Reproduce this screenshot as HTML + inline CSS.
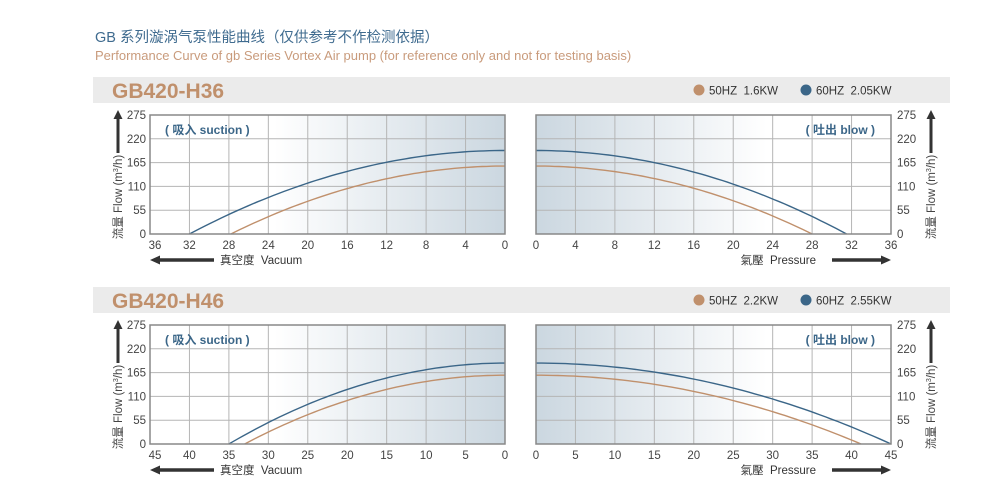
<!DOCTYPE html>
<html><head><meta charset="utf-8"><style>
html,body{margin:0;padding:0;background:#fff;}
svg{display:block;font-family:"Liberation Sans","Noto Sans CJK SC",sans-serif;}
text{white-space:pre;}
</style></head><body>
<svg id="s" width="1000" height="504" viewBox="0 0 1000 504" xmlns="http://www.w3.org/2000/svg" xml:space="preserve">
<defs>
<linearGradient id="gl" x1="0" x2="1" y1="0" y2="0"><stop offset="0" stop-color="#fff"/><stop offset="0.35" stop-color="#fff"/><stop offset="1" stop-color="#cbd7e0"/></linearGradient>
<linearGradient id="gr" x1="1" x2="0" y1="0" y2="0"><stop offset="0" stop-color="#fff"/><stop offset="0.35" stop-color="#fff"/><stop offset="1" stop-color="#cbd7e0"/></linearGradient>
</defs>
<text x="95" y="42" font-size="14.5" fill="#3f6b8f">GB 系列漩涡气泵性能曲线（仅供参考不作检测依据）</text>
<text x="95" y="60" font-size="13" fill="#c99b7c">Performance Curve of gb Series Vortex Air pump (for reference only and not for testing basis)</text>
<g id="g"></g>
</svg>
<script>
var g=document.getElementById('g'),h='';
function sec(top,title,leg1,leg2,pm,bl,bp,ol,op,Qb,Qo){
  h+='<rect x="93" y="'+(top)+'" width="857" height="26" fill="#ebebeb"/>';
  h+='<text x="112" y="'+(top+21)+'" font-size="21" font-weight="bold" fill="#c0906c">'+title+'</text>';
  h+='<circle cx="699" cy="'+(top+13)+'" r="5.5" fill="#c0906c"/><text x="709" y="'+(top+17.5)+'" font-size="11.5" fill="#333">'+leg1+'</text>';
  h+='<circle cx="806" cy="'+(top+13)+'" r="5.5" fill="#3b6688"/><text x="816" y="'+(top+17.5)+'" font-size="11.5" fill="#333">'+leg2+'</text>';
  var y0=top+38,y1=top+157,hh=y1-y0;
  [[150,'gl',0],[536,'gr',1]].forEach(function(P){
    var x0=P[0],w=355,right=P[2];
    h+='<rect x="'+x0+'" y="'+y0+'" width="'+w+'" height="'+hh+'" fill="url(#'+P[1]+')"/>';
    for(var i=1;i<9;i++){var x=x0+w*i/9;h+='<line x1="'+x+'" y1="'+y0+'" x2="'+x+'" y2="'+y1+'" stroke="#b5b5b5" stroke-width="1"/>';}
    for(var j=1;j<5;j++){var y=y0+hh*j/5;h+='<line x1="'+x0+'" y1="'+y+'" x2="'+(x0+w)+'" y2="'+y+'" stroke="#b5b5b5" stroke-width="1"/>';}
    for(var i=0;i<=9;i++){var v=pm*i/9,x=right?x0+w*i/9:x0+w-w*i/9;
      if(!right&&i==9)x+=5;
      h+='<text x="'+x+'" y="'+(y1+15)+'" font-size="11.5" fill="#444" text-anchor="middle">'+v+'</text>';}
    function curve(pmax,Q0,col){
      var d='';for(var k=0;k<=60;k++){var t=k/60,p=pmax*t,Q=Q0*(1-t*t);
        var x=right?x0+w*p/pm:x0+w-w*p/pm,y=y1-hh*Q/275;d+=(k?'L':'M')+x.toFixed(1)+' '+y.toFixed(1);}
      h+='<path d="'+d+'" fill="none" stroke="'+col+'" stroke-width="1.4"/>';}
    if(right){curve(bp,Qb,'#3b6688');curve(op,Qo,'#c0906c');}
    else{curve(bl,Qb,'#3b6688');curve(ol,Qo,'#c0906c');}
    h+='<rect x="'+x0+'" y="'+y0+'" width="'+w+'" height="'+hh+'" fill="none" stroke="#888" stroke-width="1.5"/>';
  });
  h+='<text x="165" y="'+(y0+19)+'" font-size="12" font-weight="bold" fill="#3b6688">( 吸入 suction )</text>';
  h+='<text x="875" y="'+(y0+19)+'" font-size="12" font-weight="bold" fill="#3b6688" text-anchor="end">( 吐出 blow )</text>';
  var vals=[275,220,165,110,55,0];
  for(var j=0;j<6;j++){var y=y0+hh*j/5+4;
    h+='<text x="146" y="'+y+'" font-size="11.5" fill="#444" text-anchor="end">'+vals[j]+'</text>';
    h+='<text x="897" y="'+y+'" font-size="11.5" fill="#444">'+vals[j]+'</text>';}
  [118,931].forEach(function(ax){
    h+='<line x1="'+ax+'" y1="'+(y0+2)+'" x2="'+ax+'" y2="'+(y0+38)+'" stroke="#333" stroke-width="3"/>';
    h+='<polygon points="'+(ax-4.5)+','+(y0+4)+' '+(ax+4.5)+','+(y0+4)+' '+ax+','+(y0-5)+'" fill="#333"/>';
    h+='<text transform="translate('+(ax+4)+','+(y0+82)+') rotate(-90)" font-size="11.5" fill="#444" text-anchor="middle">流量 Flow (m<tspan font-size="7" dy="-4">3</tspan><tspan dy="4">/h)</tspan></text>';
  });
  var ay=y1+26;
  h+='<line x1="158" y1="'+ay+'" x2="214" y2="'+ay+'" stroke="#333" stroke-width="3.5"/><polygon points="160,'+(ay-4.5)+' 160,'+(ay+4.5)+' 150,'+ay+'" fill="#333"/>';
  h+='<text x="220" y="'+(ay+4)+'" font-size="11.5" fill="#333">真空度  Vacuum</text>';
  h+='<line x1="832" y1="'+ay+'" x2="883" y2="'+ay+'" stroke="#333" stroke-width="3.5"/><polygon points="881,'+(ay-4.5)+' 881,'+(ay+4.5)+' 891,'+ay+'" fill="#333"/>';
  h+='<text x="816" y="'+(ay+4)+'" font-size="11.5" fill="#333" text-anchor="end">氣壓  Pressure</text>';
}
sec(77,'GB420-H36','50HZ  1.6KW','60HZ  2.05KW',36,32,31.5,27.8,28,193,157);
sec(287,'GB420-H46','50HZ  2.2KW','60HZ  2.55KW',45,35,45,33,41.2,187,159);
g.innerHTML=h;
</script>
</body></html>
